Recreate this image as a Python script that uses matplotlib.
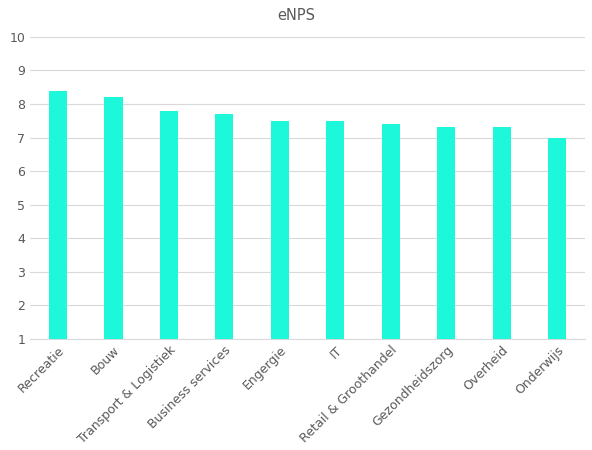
import matplotlib
matplotlib.use("Agg")
import matplotlib.pyplot as plt

categories = ["Recreatie", "Bouw", "Transport & Logistiek", "Business services", "Engergie",
              "IT", "Retail & Groothandel", "Gezondheidszorg", "Overheid", "Onderwijs"]
values = [8.4, 8.2, 7.8, 7.7, 7.5, 7.5, 7.4, 7.3, 7.3, 7.0]
yticks = list(range(1, 11))

fig = plt.figure(figsize=(5.92, 4.5), dpi=100)
ax = fig.add_axes([0.051, 0.247, 0.937, 0.671])
x = range(len(categories))
ax.bar(x, [v - 1 for v in values], bottom=1, width=0.33, color="#1DF7DA", zorder=3)
ax.set_ylim(1, 10)
ax.set_xlim(-0.5, len(categories) - 0.5)
ax.set_yticks(yticks)
ax.grid(axis="y", color="#D9D9D9", linewidth=0.8, zorder=0)
for s in ["top", "right", "left"]:
    ax.spines[s].set_visible(False)
ax.spines["bottom"].set_color("#D9D9D9")
ax.tick_params(axis="both", length=0, colors="#595959", labelsize=9)
ax.set_xticks(list(x))
ax.set_xticklabels(categories, rotation=45, ha="right", rotation_mode="anchor")
fig.text(0.5, 0.965, "eNPS", ha="center", va="center", fontsize=10.5, color="#595959")
fig.savefig("out.png", dpi=100)
